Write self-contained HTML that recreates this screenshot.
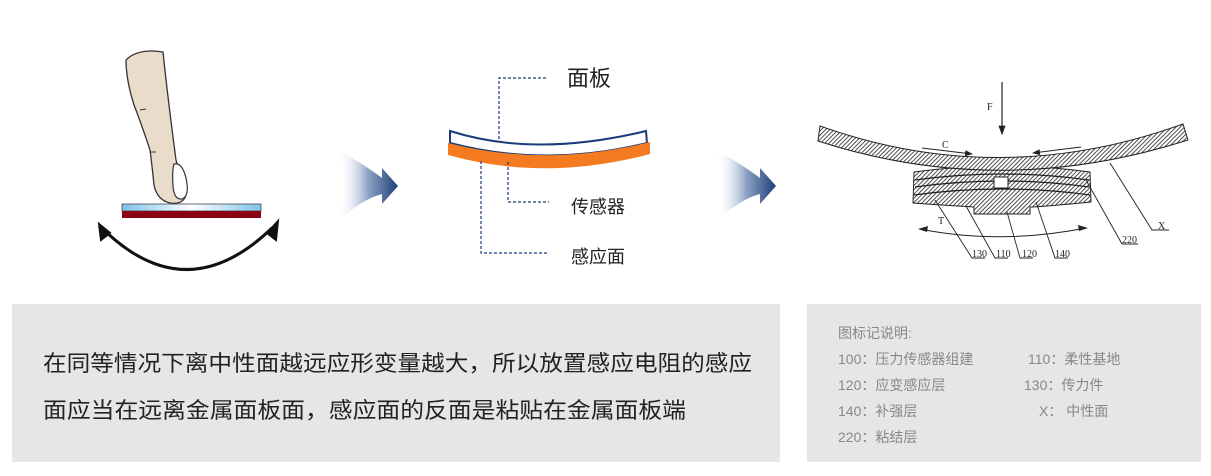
<!DOCTYPE html>
<html><head><meta charset="utf-8"><style>
html,body{margin:0;padding:0;background:#fff;}
body{width:1211px;height:476px;overflow:hidden;position:relative;font-family:"Liberation Sans","Noto Sans CJK SC",sans-serif;}
svg{position:absolute;left:0;top:0;}
</style></head><body>
<svg width="1211" height="476" viewBox="0 0 1211 476" xmlns="http://www.w3.org/2000/svg">
<defs>
<linearGradient id="ag" x1="0" x2="1" y1="0" y2="0">
<stop offset="0" stop-color="#fff" stop-opacity="0"/><stop offset="0.5" stop-color="#8ea3c5"/><stop offset="1" stop-color="#1e3f78"/></linearGradient>
<linearGradient id="pg" x1="0" x2="1"><stop offset="0" stop-color="#7ec3e6"/><stop offset="0.5" stop-color="#fff"/><stop offset="1" stop-color="#7ec3e6"/></linearGradient>
<pattern id="h" width="3" height="3" patternUnits="userSpaceOnUse" patternTransform="rotate(45)"><rect width="3" height="3" fill="#fff"/><line x1="0" y1="0" x2="0" y2="3" stroke="#222" stroke-width="1.6"/></pattern>
<marker id="ah" markerWidth="8" markerHeight="6" refX="7" refY="3" orient="auto"><path d="M0,0 L8,3 L0,6z" fill="#222"/></marker>
</defs>
<!-- finger -->
<path d="M126,60 Q138,48 163,52 Q168,100 176,160 Q182,180 186,195 Q183,205 170,203 Q157,200 154,185 Q152,165 150,150 Q140,120 134,105 Q126,80 126,60z" fill="#eadccb" stroke="#333" stroke-width="1.3"/>
<path d="M174,164 Q182,162 186,178 Q190,196 182,199 Q174,200 173,186 Q172,170 174,164z" fill="#fff" stroke="#333" stroke-width="1.2"/>
<line x1="140" y1="110" x2="146" y2="109" stroke="#333"/><line x1="150" y1="152" x2="156" y2="152" stroke="#333"/>
<rect x="122" y="204" width="139" height="7" fill="url(#pg)" stroke="#445" stroke-width="0.8"/>
<rect x="122" y="211" width="139" height="7" fill="#8b0014"/>
<path d="M104,230 Q187,310 272,228" fill="none" stroke="#111" stroke-width="3"/>
<path d="M99,224 L101,240 L110,233z" fill="#111" stroke="#111" stroke-width="2"/>
<path d="M278,221 L267,233 L276,240z" fill="#111" stroke="#111" stroke-width="2"/>
<!-- arrows -->
<path d="M338,150 Q365,165 382,178 L382,168 L398,186 L382,204 L382,194 Q360,200 338,222 Q352,190 338,150z" fill="url(#ag)"/>
<path d="M716,150 Q743,165 760,178 L760,168 L776,186 L760,204 L760,194 Q738,200 716,222 Q730,190 716,150z" fill="url(#ag)"/>
<!-- middle -->
<path d="M450,131 Q535,158 646,131 L647,143 Q545,168 450,143z" fill="#fff" stroke="#1a3c7a" stroke-width="2"/>
<path d="M448,143 Q545,168 650,142 L650,154 Q545,182 448,155z" fill="#f47b20"/>
<g stroke="#1a3c7a" stroke-width="1.2" stroke-dasharray="3,2" fill="none">
<path d="M499,139 V78 H548"/><path d="M508,162 V202 H549"/><path d="M481,161 V253 H547"/></g>
<g font-family="'Liberation Sans','Noto Sans CJK SC',sans-serif" fill="#222">
<text x="567" y="86" font-size="22">面板</text>
<text x="571" y="213" font-size="18">传感器</text>
<text x="571" y="263" font-size="18">感应面</text></g>
<!-- right diagram -->
<path d="M914,172 Q1002,160 1090,172 L1091,202 Q1040,207 1030,207 L1030,214 L974,214 L974,207 Q940,205 913,203z" fill="url(#h)" stroke="#222" stroke-width="1"/>
<g stroke="#222" fill="none" stroke-width="1.3"><path d="M915,180 Q1002,168 1089,180"/><path d="M915,187 Q1002,175 1089,187"/><path d="M914,195 Q1002,183 1090,195"/></g>
<path d="M820,126 Q1000,190 1183,124 L1188,140 Q1000,200 818,141z" fill="url(#h)" stroke="#222" stroke-width="1"/>
<rect x="994" y="177" width="14" height="11" fill="#fff" stroke="#222"/>
<line x1="1002" y1="82" x2="1002" y2="134" stroke="#222" stroke-width="1.2" marker-end="url(#ah)"/>
<line x1="922" y1="148" x2="972" y2="154" stroke="#222" marker-end="url(#ah)"/>
<line x1="1081" y1="147" x2="1033" y2="153" stroke="#222" marker-end="url(#ah)"/>
<path d="M920,229 Q1000,245 1086,228" fill="none" stroke="#222"/>
<path d="M918,229 L928,226 L927,232z M1088,228 L1078,225 L1079,231z" fill="#222"/>
<g stroke="#222" fill="none" stroke-width="0.9">
<path d="M935,200 L972,258 H985"/><path d="M966,206 L995,258 H1008"/><path d="M1007,212 L1020,258 H1033"/><path d="M1036,202 L1055,258 H1068"/>
<path d="M1086,180 L1122,244 H1138"/><path d="M1110,163 L1152,230 H1169"/></g>
<g font-family="'Liberation Serif',serif" font-size="10" fill="#222">
<text x="987" y="110">F</text><text x="942" y="148">C</text><text x="938" y="224">T</text>
<text x="972" y="257">130</text><text x="996" y="257">110</text><text x="1022" y="257">120</text><text x="1055" y="257">140</text>
<text x="1122" y="243">220</text><text x="1158" y="229">X</text></g>
<!-- boxes -->
<rect x="12" y="304" width="768" height="158" fill="#e6e6e6"/>
<rect x="807" y="304" width="394" height="158" fill="#e6e6e6"/>
<g font-family="'Liberation Sans','Noto Sans CJK SC',sans-serif" fill="#222" font-size="22">
<text x="43" y="371" textLength="709" lengthAdjust="spacingAndGlyphs">在同等情况下离中性面越远应形变量越大，所以放置感应电阻的感应</text>
<text x="43" y="418" textLength="643" lengthAdjust="spacingAndGlyphs">面应当在远离金属面板面，感应面的反面是粘贴在金属面板端</text></g>
<g font-family="'Liberation Sans','Noto Sans CJK SC',sans-serif" fill="#888" font-size="14">
<text x="838" y="338">图标记说明:</text>
<text x="838" y="364">100：压力传感器组建</text><text x="1028" y="364">110：柔性基地</text>
<text x="838" y="390">120：应变感应层</text><text x="1024" y="390">130：传力件</text>
<text x="838" y="416">140：补强层</text><text x="1039" y="416">X：&#160;中性面</text>
<text x="838" y="442">220：粘结层</text></g>
</svg>
</body></html>
